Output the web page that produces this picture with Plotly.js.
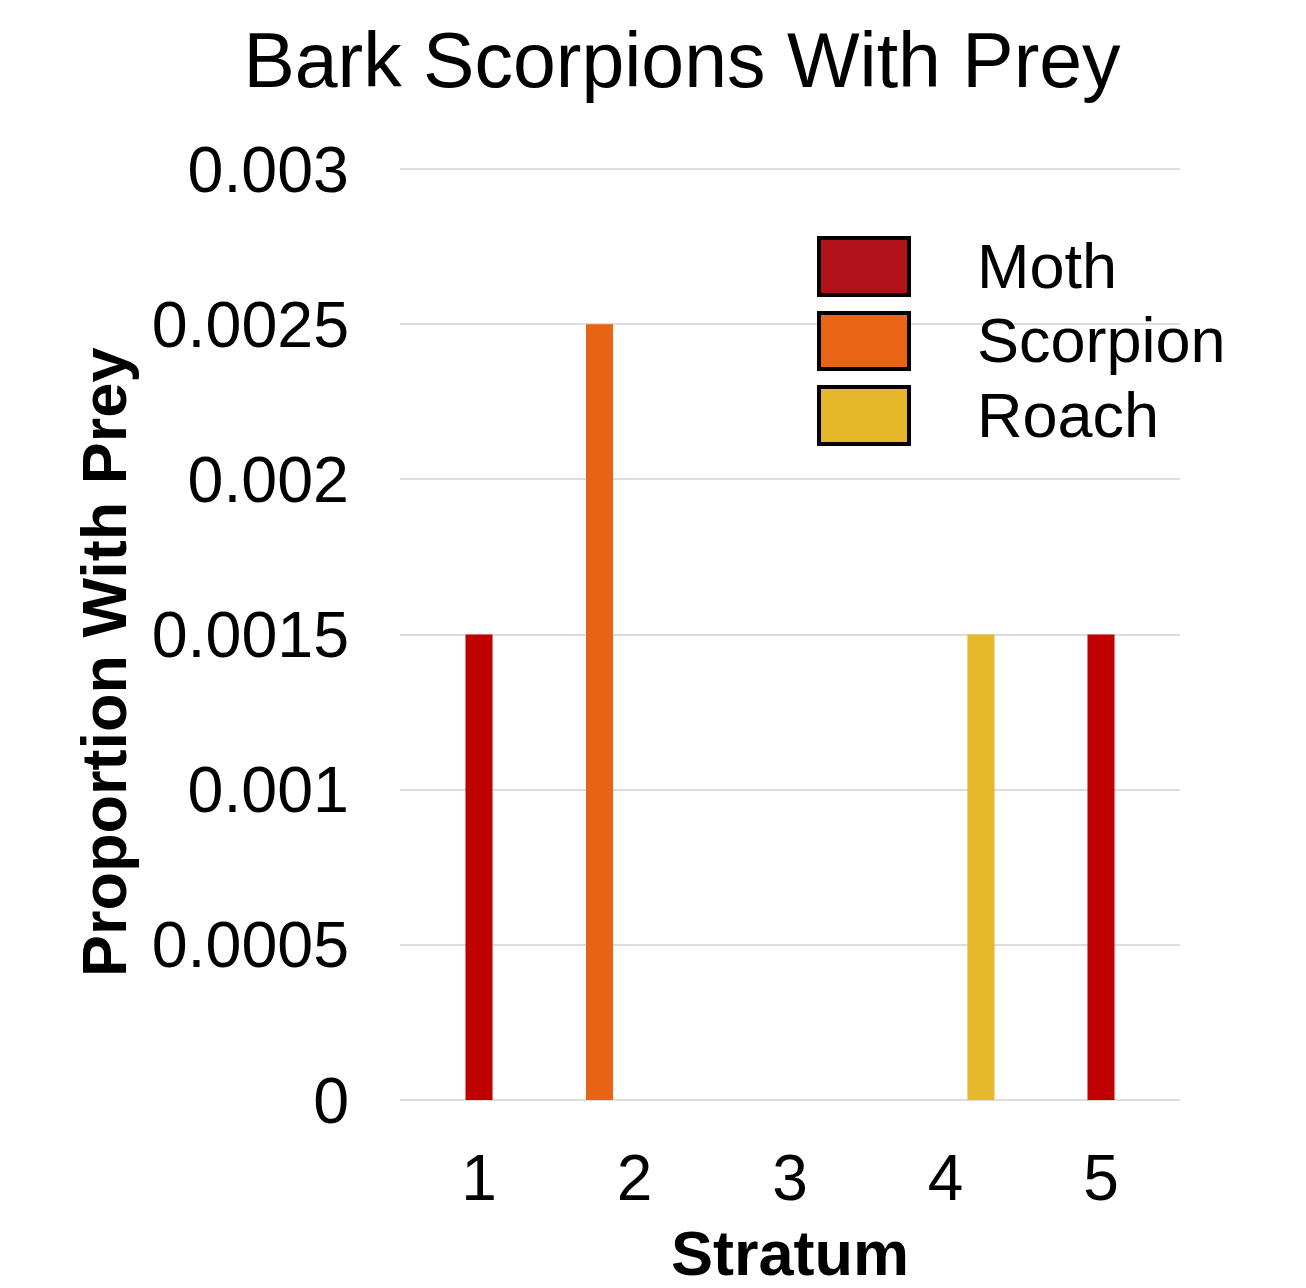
<!DOCTYPE html>
<html>
<head>
<meta charset="utf-8">
<script src="https://cdn.plot.ly/plotly-3.0.1.min.js"></script>
<style>html,body{margin:0;padding:0;background:#fff;}#chart{width:1306px;height:1288px;}</style>
</head>
<body>
<div id="chart"></div>
<script>
// ---- data ----
const strata = [1, 2, 3, 4, 5];
const moth = [0.0015, 0, 0, 0, 0.0015];
const scorpion = [0, 0.0025, 0, 0, 0];
const roach = [0, 0, 0, 0.0015, 0];
const seriesNames = ['Moth', 'Scorpion', 'Roach'];
const yTickVals = [0, 0.0005, 0.001, 0.0015, 0.002, 0.0025, 0.003];
const yTickText = ['0', '0.0005', '0.001', '0.0015', '0.002', '0.0025', '0.003'];
const xTickText = ['1', '2', '3', '4', '5'];

// ---- styles ----
const barColors = ['#C00000', '#E96315', '#E6B82C'];
const legendColors = ['#B0141A', '#E96515', '#E5B82C'];
const barOffsets = [-0.087, -0.312, 0.141];
const barWidth = 0.174;
const FONT = 'Liberation Sans, Arial, sans-serif';

const W = 1306, H = 1288;
const L = 400, R = 1180, T = 166, B = 1103;
const px = x => (x - L) / (R - L);
const py = y => (B - y) / (B - T);
// value range so that 0 -> y=1100 and 0.003 -> y=169
const perPx = 0.003 / 931;
const yRange = [-3 * perPx, 0.003 + 3 * perPx];

const values = [moth, scorpion, roach];
const traces = values.map((v, i) => ({
  type: 'bar',
  name: seriesNames[i],
  x: strata,
  y: v,
  width: barWidth,
  offset: barOffsets[i],
  marker: {color: barColors[i], line: {width: 0}},
  showlegend: false,
  hoverinfo: 'x+y+name'
}));

// custom legend (large swatches like the reference)
const legRows = [[238, 295], [313, 369], [387, 444]];
const shapes = legRows.map((r, i) => ({
  type: 'rect', xref: 'paper', yref: 'paper',
  x0: px(819), x1: px(909), y0: py(r[0]), y1: py(r[1]),
  fillcolor: legendColors[i], line: {color: '#000', width: 4}, layer: 'above'
}));
const annotations = seriesNames.map((n, i) => ({
  text: n, xref: 'paper', yref: 'paper',
  x: px(975), y: py((legRows[i][0] + legRows[i][1]) / 2 - 1),
  xanchor: 'left', yanchor: 'middle', showarrow: false,
  font: {family: FONT, size: 63, color: '#000'}
}));
annotations.push({
  text: '<b>Proportion With Prey</b>', xref: 'paper', yref: 'paper',
  x: px(104), y: py(663), xanchor: 'center', yanchor: 'middle',
  textangle: -90, showarrow: false,
  font: {family: FONT, size: 63, color: '#000'}
});

const layout = {
  width: W, height: H,
  margin: {l: L, r: W - R, t: T, b: H - B, pad: 0},
  paper_bgcolor: '#fff', plot_bgcolor: '#fff',
  barmode: 'overlay',
  showlegend: false,
  font: {family: FONT, color: '#000'},
  title: {
    text: 'Bark Scorpions With Prey',
    font: {family: FONT, size: 77, color: '#000'},
    xref: 'container', yref: 'container',
    x: 682 / W, y: 1 - 60 / H, xanchor: 'center', yanchor: 'middle'
  },
  xaxis: {
    range: [0.492, 5.508],
    tickvals: strata, ticktext: xTickText,
    showgrid: false, zeroline: false, showline: false, ticks: '',
    tickfont: {family: FONT, size: 64, color: '#000'},
    ticklabelstandoff: 32,
    title: {text: '<b>Stratum</b>', font: {family: FONT, size: 63, color: '#000'}, standoff: 20}
  },
  yaxis: {
    range: yRange,
    tickvals: yTickVals, ticktext: yTickText,
    showgrid: true, gridcolor: '#DDDDDD', gridwidth: 2,
    zeroline: false, showline: false, ticks: '',
    tickfont: {family: FONT, size: 64.5, color: '#000'},
    ticklabelstandoff: 50
  },
  shapes: shapes,
  annotations: annotations
};

Plotly.newPlot('chart', traces, layout, {displayModeBar: false, staticPlot: true});
</script>
</body>
</html>
